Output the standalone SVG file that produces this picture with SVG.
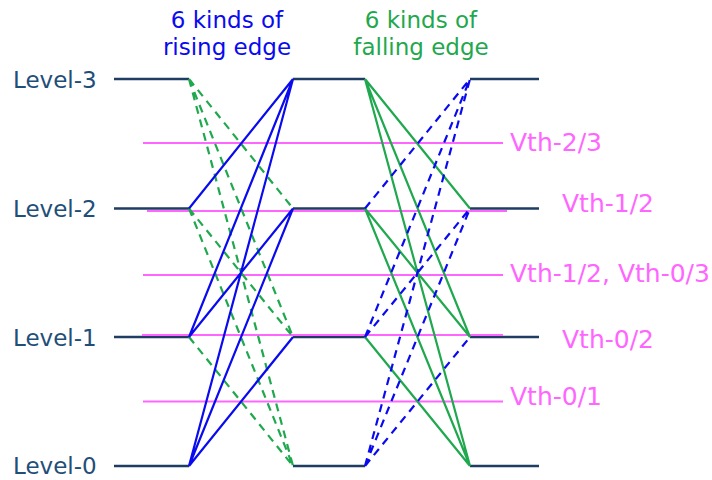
<svg xmlns="http://www.w3.org/2000/svg" width="712" height="480" viewBox="0 0 712 480">
<style>
text{font-family:"DejaVu Sans","Liberation Sans",sans-serif}
.lvl{stroke:#1f3d63;stroke-width:2.5;fill:none}
.lt{fill:#1f4e79;font-size:23px}
.vth{stroke:#ff66ff;stroke-width:2;fill:none}
.vt{fill:#ff66ff;font-size:25px}
.rs{stroke:#0a0af0;stroke-width:2.2;fill:none}
.rd{stroke:#0a0af0;stroke-width:2.2;fill:none;stroke-dasharray:8 6}
.fs{stroke:#1fa84e;stroke-width:2.2;fill:none}
.fd{stroke:#1fa84e;stroke-width:2.2;fill:none;stroke-dasharray:8 6}
.tb{fill:#0a0af0;font-size:23px;text-anchor:middle}
.tg{fill:#1fa84e;font-size:23px;text-anchor:middle}
</style>
<rect width="712" height="480" fill="#fff"/>
<g id="titles">
<text class="tb" x="227" y="28">6 kinds of</text>
<text class="tb" x="227" y="55">rising edge</text>
<text class="tg" x="421" y="28">6 kinds of</text>
<text class="tg" x="421" y="55">falling edge</text>
</g>
<g id="level-3">
<text class="lt" x="13" y="88">Level-3</text>
<path class="lvl" d="M114 79H189M293 79H365M470 79H539"/>
</g>
<g id="level-2">
<text class="lt" x="13" y="217">Level-2</text>
<path class="lvl" d="M114 208.5H189M293 208.5H365M470 208.5H539"/>
</g>
<g id="level-1">
<text class="lt" x="13" y="346">Level-1</text>
<path class="lvl" d="M114 337H189M293 337H365M470 337H539"/>
</g>
<g id="level-0">
<text class="lt" x="13" y="474">Level-0</text>
<path class="lvl" d="M114 466H189M293 466H365M470 466H539"/>
</g>
<g id="thresholds">
<path class="vth" d="M143 143H503M147 211H507M143 275H503M142 335H503M143 401.5H503"/>
<text class="vt" x="510" y="151">Vth-2/3</text>
<text class="vt" x="562" y="212">Vth-1/2</text>
<text class="vt" x="510" y="282">Vth-1/2, Vth-0/3</text>
<text class="vt" x="562" y="348">Vth-0/2</text>
<text class="vt" x="510" y="405">Vth-0/1</text>
</g>
<g id="connectors">
<path class="fd" d="M189 79L293 208.5M189 79L293 337M189 79L293 466M189 208.5L293 337M189 208.5L293 466M189 337L293 466"/>
<path class="rs" d="M189 466L293 337M189 466L293 208.5M189 466L293 79M189 337L293 208.5M189 337L293 79M189 208.5L293 79"/>
<path class="fs" d="M365 79L470 208.5M365 79L470 337M365 79L470 466M365 208.5L470 337M365 208.5L470 466M365 337L470 466"/>
<path class="rd" d="M365 466L470 337M365 466L470 208.5M365 466L470 79M365 337L470 208.5M365 337L470 79M365 208.5L470 79"/>
</g>
</svg>
